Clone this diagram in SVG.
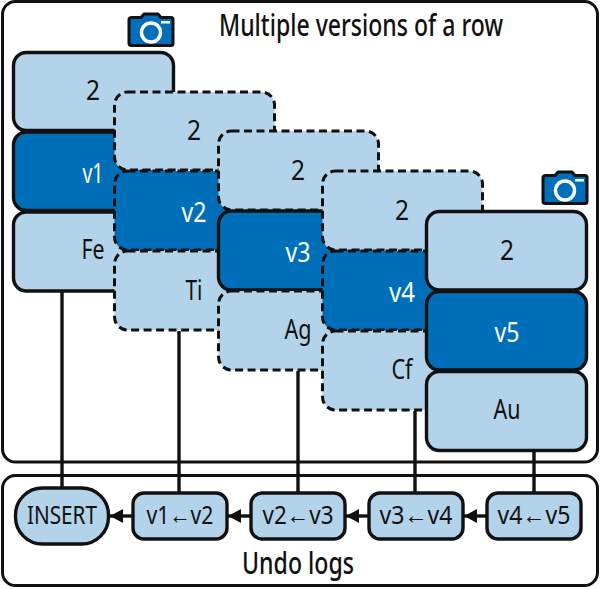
<svg xmlns="http://www.w3.org/2000/svg" width="600" height="589" viewBox="0 0 600 589">
<style>
text{font-family:"Noto Sans","Open Sans",sans-serif;font-size:27px;fill:#111;text-anchor:middle}
text.w{fill:#fff}
text.t{font-size:30px;font-weight:500}
text.u{font-size:25.500px}
tspan{font-family:"Liberation Sans",sans-serif}
.l{fill:#b3d3ea}.d{fill:#006fba}
.s{stroke:#111;stroke-width:3.4}
.da{stroke-dasharray:8 4.500;stroke-width:3}
.frame{fill:none;stroke:#111;stroke-width:3}
.c{fill:none;stroke:#111;stroke-width:3.4}
.cam{fill:#006fba;stroke:#111;stroke-width:3;stroke-linejoin:round}
</style>
<defs>
<marker id="a" markerUnits="userSpaceOnUse" markerWidth="14" markerHeight="16" refX="13" refY="8" orient="auto"><path d="M0 1L13 8L0 15Z" fill="#111"/></marker>
<g id="camera"><path class="cam" d="M5 5H14L17 1.500H31L34 5H44Q46 5 46 7V31Q46 33 44 33H5Q2 33 2 31V7Q2 5 5 5Z"/><circle cx="24" cy="20" r="9.500" fill="none" stroke="#fff" stroke-width="3.400"/><rect x="34" y="8.500" width="9" height="2.500" fill="#fff"/></g>
</defs>
<g id="frames"><rect class="frame" x="2.500" y="1.500" width="595" height="460.500" rx="13"/><rect class="frame" x="2.500" y="475.500" width="595" height="110" rx="13"/></g>
<text class="t" x="361" y="36" textLength="284" lengthAdjust="spacingAndGlyphs">Multiple versions of a row</text>
<text class="t" x="298" y="574" textLength="112" lengthAdjust="spacingAndGlyphs">Undo logs</text>
<g id="connectors">
<path class="c" d="M62 291V490M179 331V493M298 371V493M415 411V493M534 451V493"/>
<path class="c" marker-end="url(#a)" d="M133 516H110"/>
<path class="c" marker-end="url(#a)" d="M251 516H228"/>
<path class="c" marker-end="url(#a)" d="M369 516H346"/>
<path class="c" marker-end="url(#a)" d="M487 516H464"/>
</g>
<use href="#camera" x="127" y="12.500"/>
<use href="#camera" x="541" y="170.500"/>
<g id="stack-v1">
<rect class="l s" x="13.500" y="52.500" width="160" height="78" rx="13"/>
<rect class="d s" x="13.500" y="132" width="160" height="78.500" rx="13"/>
<rect class="l s" x="13.500" y="212" width="160" height="79" rx="13"/>
<text x="93" y="100" textLength="14" lengthAdjust="spacingAndGlyphs">2</text><text class="w" x="93" y="183" textLength="21" lengthAdjust="spacingAndGlyphs">v1</text><text x="93" y="259" textLength="23" lengthAdjust="spacingAndGlyphs">Fe</text>
</g>
<g id="stack-v2">
<rect class="l s da" x="114.500" y="92" width="160" height="78" rx="13"/>
<rect class="d s da" x="114.500" y="171" width="160" height="79" rx="13"/>
<rect class="l s da" x="114.500" y="251" width="160" height="79" rx="13"/>
<text x="194" y="140" textLength="14" lengthAdjust="spacingAndGlyphs">2</text><text class="w" x="194" y="222" textLength="25" lengthAdjust="spacingAndGlyphs">v2</text><text x="194" y="300" textLength="17" lengthAdjust="spacingAndGlyphs">Ti</text>
</g>
<g id="stack-v3">
<rect class="l s da" x="218.500" y="131" width="160" height="79" rx="13"/>
<rect class="d s" x="218.500" y="211" width="160" height="79" rx="13"/>
<rect class="l s da" x="218.500" y="291" width="160" height="79" rx="13"/>
<text x="298" y="180" textLength="14" lengthAdjust="spacingAndGlyphs">2</text><text class="w" x="298" y="262" textLength="25" lengthAdjust="spacingAndGlyphs">v3</text><text x="298" y="339" textLength="27" lengthAdjust="spacingAndGlyphs">Ag</text>
</g>
<g id="stack-v4">
<rect class="l s da" x="322.500" y="171" width="160" height="79" rx="13"/>
<rect class="d s da" x="322.500" y="251" width="160" height="79" rx="13"/>
<rect class="l s da" x="322.500" y="331" width="160" height="79" rx="13"/>
<text x="402" y="220" textLength="14" lengthAdjust="spacingAndGlyphs">2</text><text class="w" x="402" y="302" textLength="26" lengthAdjust="spacingAndGlyphs">v4</text><text x="402" y="379" textLength="21" lengthAdjust="spacingAndGlyphs">Cf</text>
</g>
<g id="stack-v5">
<rect class="l s" x="426.500" y="211.500" width="160" height="78.500" rx="13"/>
<rect class="d s" x="426.500" y="291.500" width="160" height="78.500" rx="13"/>
<rect class="l s" x="426.500" y="371.500" width="160" height="79" rx="13"/>
<text x="507" y="260" textLength="14" lengthAdjust="spacingAndGlyphs">2</text><text class="w" x="507" y="342" textLength="25" lengthAdjust="spacingAndGlyphs">v5</text><text x="507" y="419" textLength="27" lengthAdjust="spacingAndGlyphs">Au</text>
</g>
<g id="insert"><rect class="l s" x="15.500" y="488" width="93" height="56" rx="27"/><text class="u" x="62" y="524" textLength="70" lengthAdjust="spacingAndGlyphs">INSERT</text></g>
<g id="log1"><rect class="l s" x="133" y="493" width="94" height="46" rx="11"/><text class="u" x="180" y="524" textLength="67" lengthAdjust="spacingAndGlyphs">v1<tspan>←</tspan>v2</text></g>
<g id="log2"><rect class="l s" x="251" y="493" width="94" height="46" rx="11"/><text class="u" x="298" y="524" textLength="71" lengthAdjust="spacingAndGlyphs">v2<tspan>←</tspan>v3</text></g>
<g id="log3"><rect class="l s" x="369" y="493" width="94" height="46" rx="11"/><text class="u" x="416" y="524" textLength="73" lengthAdjust="spacingAndGlyphs">v3<tspan>←</tspan>v4</text></g>
<g id="log4"><rect class="l s" x="487" y="493" width="94" height="46" rx="11"/><text class="u" x="534" y="524" textLength="73" lengthAdjust="spacingAndGlyphs">v4<tspan>←</tspan>v5</text></g>
</svg>
